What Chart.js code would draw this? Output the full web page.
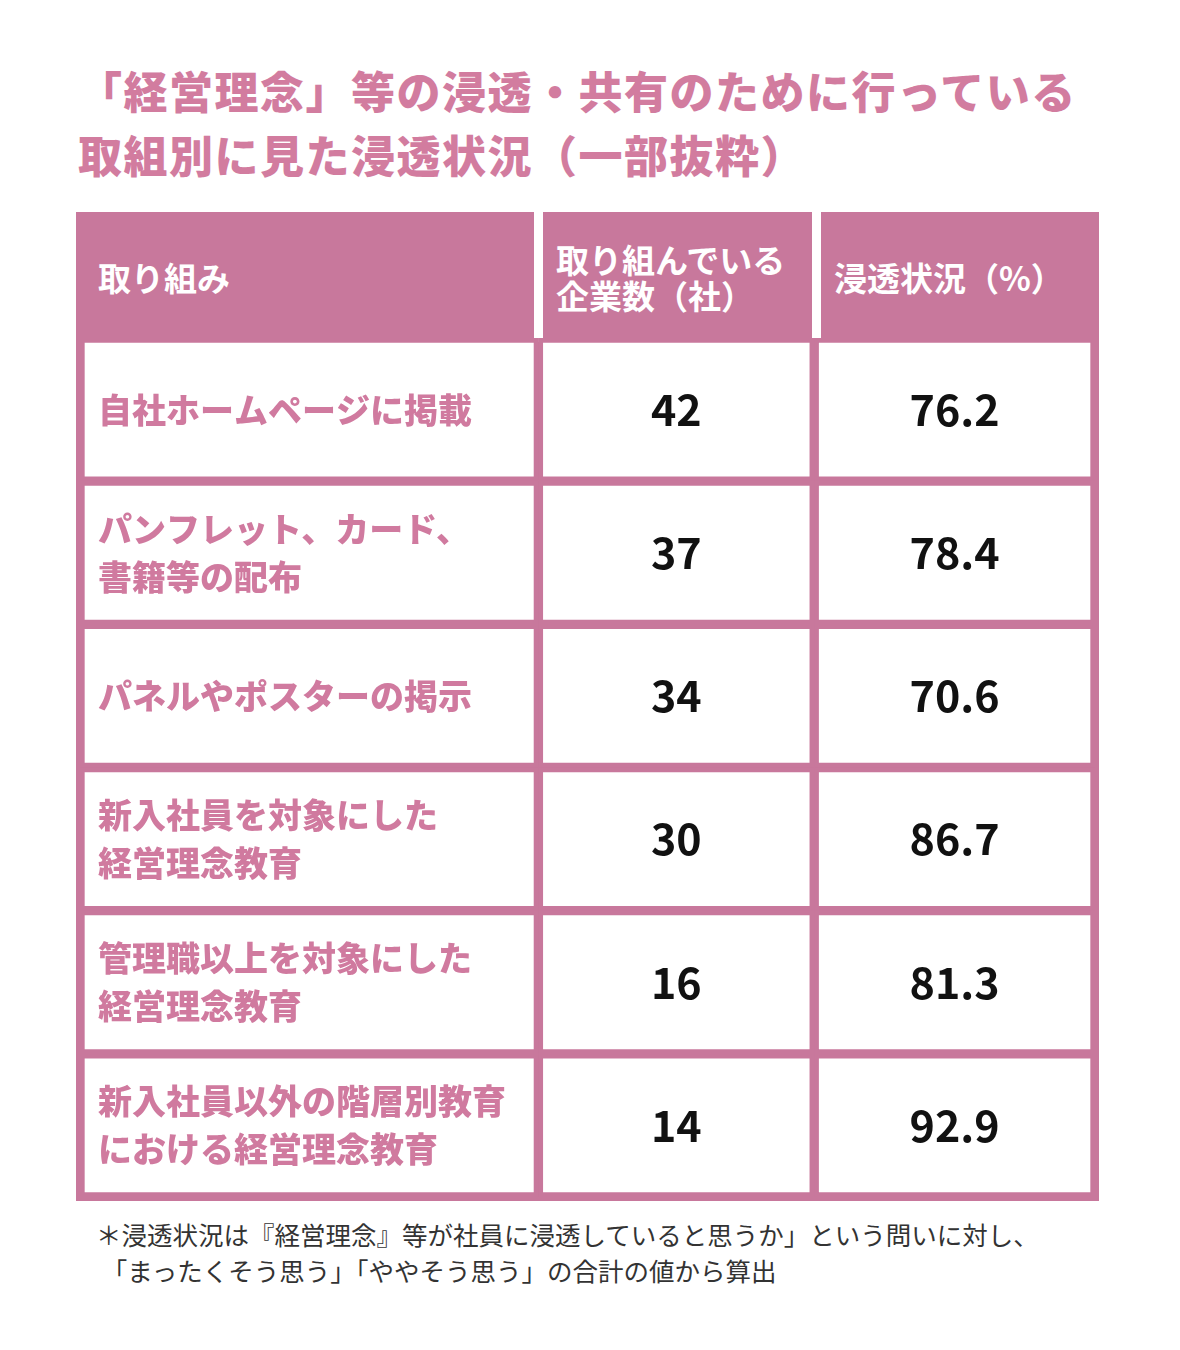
<!DOCTYPE html>
<html><head><meta charset="utf-8">
<script src="https://cdn.jsdelivr.net/npm/chart.js@4"></script>
<style>
body{margin:0;background:#fff;font-family:"Noto Sans CJK JP",sans-serif;}
#title{position:absolute;left:78px;top:58px;color:#d27c9f;font-size:44px;font-weight:900;line-height:64px;letter-spacing:1.5px;white-space:nowrap;}
#tbl{position:absolute;left:76px;top:212px;width:1023px;height:989px;background:#c8789c;}
.h{position:absolute;top:0;height:130px;color:#fff;font-weight:700;font-size:33px;display:flex;align-items:center;line-height:36px;white-space:nowrap;}
.sep{position:absolute;top:0;width:9px;height:130px;background:#fff;}
#wrap{position:absolute;left:0;top:126px;width:1023px;height:863px;}
#note{position:absolute;left:96px;top:1216px;font-size:25.5px;color:#333;line-height:36px;white-space:nowrap;}
</style></head><body>
<div id="title">「経営理念」等の浸透・共有のために行っている<br>取組別に見た浸透状況（一部抜粋）</div>
<div id="tbl">
  <div class="h" style="left:22px">取り組み</div>
  <div class="sep" style="left:458px"></div>
  <div class="h" style="left:480px">取り組んでいる<br>企業数（社）</div>
  <div class="sep" style="left:736px"></div>
  <div class="h" style="left:758px">浸透状況（%）</div>
  <div id="wrap"><canvas id="c"></canvas></div>
</div>
<div id="note">＊浸透状況は『経営理念』等が社員に浸透していると思うか」という問いに対し、<br>&nbsp;「まったくそう思う」「ややそう思う」の合計の値から算出</div>
<script>
var categories = ["自社ホームページに掲載", "パンフレット、カード、\n書籍等の配布", "パネルやポスターの掲示",
  "新入社員を対象にした\n経営理念教育", "管理職以上を対象にした\n経営理念教育", "新入社員以外の階層別教育\nにおける経営理念教育"];
var companies = [42, 37, 34, 30, 16, 14];
var penetration = [76.2, 78.4, 70.6, 86.7, 81.3, 92.9];
var columnWidths = [462, 278, 283];

var pink = '#c8789c';
function colData(w) { return categories.map(function(){ return w; }); }

var textPlugin = {
  id: 'cellText',
  afterDatasetsDraw: function(chart) {
    var ctx = chart.ctx;
    ctx.save();
    ctx.textBaseline = 'middle';
    chart.getDatasetMeta(0).data.forEach(function(bar, i) {
      var lines = categories[i].split('\n');
      ctx.fillStyle = '#d07a9f';
      ctx.font = '900 34px "Noto Sans CJK JP"';
      ctx.textAlign = 'left';
      var left = bar.base + 18;
      lines.forEach(function(l, k) {
        ctx.fillText(l, left, bar.y + (k - (lines.length - 1) / 2) * 48);
      });
    });
    ctx.fillStyle = '#111';
    ctx.font = '700 43px "Noto Sans CJK JP"';
    ctx.textAlign = 'center';
    chart.getDatasetMeta(1).data.forEach(function(bar, i) {
      ctx.fillText(String(companies[i]), (bar.base + bar.x) / 2, bar.y);
    });
    chart.getDatasetMeta(2).data.forEach(function(bar, i) {
      ctx.fillText(penetration[i].toFixed(1), (bar.base + bar.x) / 2, bar.y);
    });
    ctx.restore();
  }
};

new Chart(document.getElementById('c'), {
  type: 'bar',
  data: {
    labels: categories,
    datasets: columnWidths.map(function(w) {
      return { data: colData(w), backgroundColor: '#fff', borderColor: pink, borderWidth: 5, borderSkipped: false,
        barPercentage: 1, categoryPercentage: 1 };
    })
  },
  options: {
    indexAxis: 'y',
    responsive: true, maintainAspectRatio: false, animation: false,
    layout: { padding: { left: 4, right: 4, top: 0, bottom: 4 } },
    plugins: { legend: { display: false }, tooltip: { enabled: false } },
    scales: {
      x: { stacked: true, display: false, min: 0, max: 1023 },
      y: { stacked: true, display: false }
    }
  },
  plugins: [textPlugin]
});
</script>
</body></html>
